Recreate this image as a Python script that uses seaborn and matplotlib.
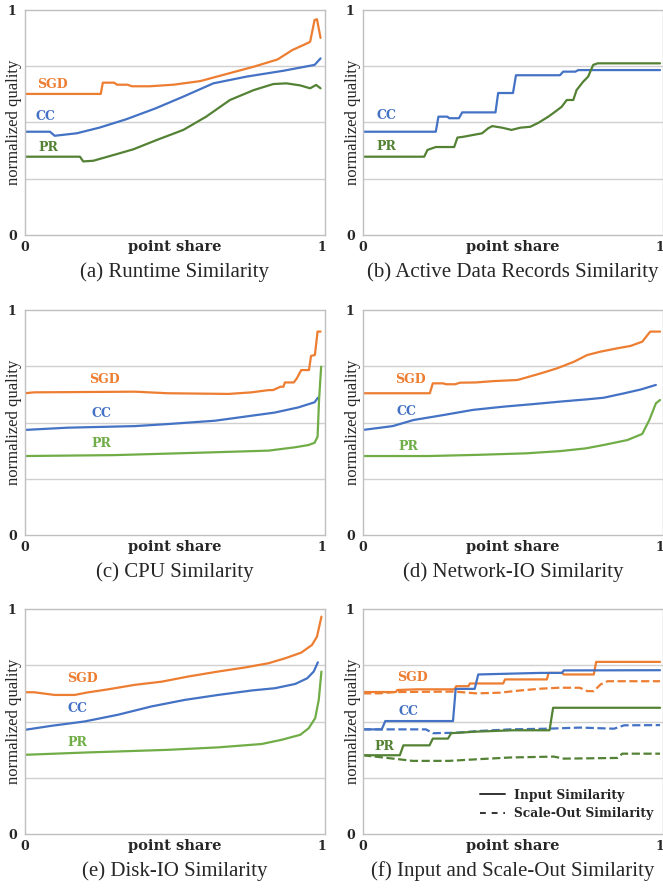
"""
Similarity quality curves, six panels (a)-(f)
"""
import matplotlib
matplotlib.use('Agg')
import matplotlib.pyplot as plt
from matplotlib.lines import Line2D
import seaborn as sns
import pandas as pd

sns.set_style('white')
plt.rcParams['font.family'] = ['Liberation Serif', 'DejaVu Serif']

ORANGE = '#ED7D31'
BLUE = '#4472C4'
DARK_GREEN = '#548235'
LIGHT_GREEN = '#70AD47'

# (a) Runtime Similarity
RT_SGD_X = [0, 0.255, 0.262, 0.30, 0.31, 0.345, 0.36, 0.42, 0.50, 0.59, 0.68, 0.77, 0.85, 0.90, 0.95, 0.96, 0.975, 0.983, 0.995]
RT_SGD_Y = [0.627, 0.627, 0.677, 0.677, 0.668, 0.668, 0.661, 0.661, 0.668, 0.684, 0.716, 0.748, 0.78, 0.822, 0.852, 0.859, 0.956, 0.959, 0.876]
RT_CC_X = [0, 0.084, 0.10, 0.174, 0.25, 0.34, 0.44, 0.533, 0.634, 0.746, 0.87, 0.975, 0.995]
RT_CC_Y = [0.459, 0.459, 0.441, 0.452, 0.477, 0.514, 0.563, 0.615, 0.674, 0.704, 0.730, 0.756, 0.785]
RT_PR_X = [0, 0.185, 0.196, 0.23, 0.31, 0.365, 0.443, 0.533, 0.61, 0.69, 0.77, 0.836, 0.88, 0.926, 0.96, 0.98, 0.995]
RT_PR_Y = [0.348, 0.348, 0.327, 0.33, 0.36, 0.381, 0.422, 0.467, 0.526, 0.60, 0.644, 0.671, 0.674, 0.665, 0.652, 0.667, 0.652]

# (b) Active Data Records Similarity
REC_CC_X = [0, 0.245, 0.254, 0.284, 0.29, 0.323, 0.334, 0.446, 0.455, 0.505, 0.515, 0.663, 0.674, 0.715, 0.725, 1.0]
REC_CC_Y = [0.459, 0.459, 0.526, 0.526, 0.519, 0.519, 0.545, 0.545, 0.631, 0.631, 0.71, 0.71, 0.726, 0.726, 0.733, 0.733]
REC_PR_X = [0, 0.206, 0.217, 0.245, 0.307, 0.318, 0.34, 0.368, 0.401, 0.421, 0.435, 0.468, 0.50, 0.53, 0.563,
            0.591, 0.624, 0.647, 0.669, 0.686, 0.708, 0.719, 0.741, 0.758, 0.775, 0.79, 1.0]
REC_PR_Y = [0.348, 0.348, 0.378, 0.391, 0.391, 0.433, 0.437, 0.444, 0.452, 0.474, 0.484, 0.477, 0.467, 0.477, 0.481,
            0.499, 0.526, 0.548, 0.57, 0.60, 0.60, 0.644, 0.681, 0.704, 0.756, 0.763, 0.763]

# (c) CPU Similarity
CPU_SGD_X = [0, 0.03, 0.37, 0.48, 0.685, 0.763, 0.82, 0.835, 0.86, 0.87, 0.875, 0.905, 0.915, 0.93,
             0.956, 0.963, 0.976, 0.985, 0.995]
CPU_SGD_Y = [0.63, 0.634, 0.637, 0.63, 0.627, 0.634, 0.644, 0.644, 0.659, 0.659, 0.678, 0.678, 0.696, 0.733,
             0.733, 0.796, 0.80, 0.904, 0.904]
CPU_CC_X = [0, 0.144, 0.37, 0.48, 0.64, 0.74, 0.84, 0.92, 0.975, 0.986]
CPU_CC_Y = [0.467, 0.477, 0.484, 0.493, 0.508, 0.526, 0.544, 0.567, 0.59, 0.61]
CPU_PR_X = [0, 0.30, 0.595, 0.82, 0.91, 0.955, 0.975, 0.985, 0.99, 0.997]
CPU_PR_Y = [0.351, 0.355, 0.366, 0.375, 0.39, 0.40, 0.41, 0.437, 0.60, 0.748]

# (d) Network-IO Similarity
NET_SGD_X = [0, 0.225, 0.235, 0.27, 0.28, 0.31, 0.327, 0.38, 0.44, 0.52, 0.55, 0.60, 0.654, 0.71, 0.755, 0.80,
             0.857, 0.90, 0.94, 0.967, 1.0]
NET_SGD_Y = [0.63, 0.63, 0.674, 0.674, 0.67, 0.67, 0.677, 0.678, 0.684, 0.689, 0.70, 0.719, 0.741, 0.77, 0.80, 0.815,
             0.83, 0.84, 0.859, 0.904, 0.904]
NET_CC_X = [0, 0.10, 0.17, 0.27, 0.37, 0.47, 0.575, 0.665, 0.755, 0.81, 0.88, 0.936, 0.986]
NET_CC_Y = [0.467, 0.484, 0.511, 0.533, 0.556, 0.57, 0.582, 0.593, 0.603, 0.61, 0.63, 0.647, 0.667]
NET_PR_X = [0, 0.22, 0.38, 0.55, 0.665, 0.75, 0.81, 0.89, 0.94, 0.964, 0.986, 1.0]
NET_PR_Y = [0.351, 0.351, 0.356, 0.363, 0.373, 0.385, 0.40, 0.422, 0.449, 0.511, 0.585, 0.60]

# (e) Disk-IO Similarity
DISK_SGD_X = [0, 0.03, 0.10, 0.167, 0.21, 0.28, 0.37, 0.46, 0.55, 0.65, 0.74, 0.82, 0.876, 0.93, 0.966, 0.983, 0.998]
DISK_SGD_Y = [0.63, 0.63, 0.618, 0.618, 0.629, 0.643, 0.663, 0.677, 0.70, 0.722, 0.74, 0.759, 0.781, 0.806, 0.84, 0.877, 0.966]
DISK_CC_X = [0, 0.09, 0.20, 0.313, 0.426, 0.538, 0.65, 0.764, 0.842, 0.91, 0.95, 0.972, 0.986]
DISK_CC_Y = [0.463, 0.481, 0.50, 0.53, 0.567, 0.596, 0.618, 0.638, 0.648, 0.667, 0.692, 0.722, 0.763]
DISK_PR_X = [0, 0.20, 0.48, 0.65, 0.797, 0.865, 0.927, 0.955, 0.977, 0.989, 0.998]
DISK_PR_Y = [0.352, 0.362, 0.374, 0.385, 0.40, 0.419, 0.441, 0.47, 0.515, 0.596, 0.722]

# (f) Input and Scale-Out Similarity, solid = input, dashed = scale-out
IN_SGD_X = [0, 0.11, 0.116, 0.18, 0.308, 0.314, 0.355, 0.36, 0.472, 0.478, 0.619, 0.625, 0.67, 0.676, 0.777, 0.785, 1.0]
IN_SGD_Y = [0.631, 0.631, 0.64, 0.643, 0.643, 0.657, 0.657, 0.669, 0.669, 0.687, 0.687, 0.716, 0.716, 0.709, 0.709, 0.765, 0.765]
IN_CC_X = [0, 0.063, 0.075, 0.303, 0.312, 0.376, 0.388, 0.506, 0.597, 0.67, 0.676, 1.0]
IN_CC_Y = [0.465, 0.465, 0.502, 0.502, 0.645, 0.645, 0.709, 0.713, 0.716, 0.716, 0.727, 0.728]
IN_PR_X = [0, 0.124, 0.136, 0.224, 0.235, 0.286, 0.297, 0.382, 0.506, 0.628, 0.64, 1.0]
IN_PR_Y = [0.35, 0.35, 0.394, 0.394, 0.424, 0.424, 0.448, 0.455, 0.461, 0.461, 0.561, 0.561]
OUT_SGD_X = [0, 0.054, 0.11, 0.308, 0.382, 0.46, 0.53, 0.60, 0.66, 0.73, 0.755, 0.777, 0.80, 0.823, 1.0]
OUT_SGD_Y = [0.625, 0.625, 0.631, 0.633, 0.625, 0.628, 0.638, 0.646, 0.65, 0.65, 0.635, 0.635, 0.665, 0.679, 0.679]
OUT_CC_X = [0, 0.212, 0.235, 0.314, 0.393, 0.495, 0.62, 0.732, 0.845, 0.879, 1.0]
OUT_CC_Y = [0.465, 0.465, 0.448, 0.45, 0.458, 0.465, 0.468, 0.473, 0.468, 0.483, 0.484]
OUT_PR_X = [0, 0.122, 0.167, 0.29, 0.382, 0.495, 0.642, 0.676, 0.856, 0.873, 1.0]
OUT_PR_Y = [0.35, 0.332, 0.325, 0.325, 0.332, 0.34, 0.344, 0.335, 0.338, 0.357, 0.357]

# label positions (x, y) per panel
LABELS = {
    'a': [('SGD', 0.042, 0.671, ORANGE), ('CC', 0.037, 0.526, BLUE), ('PR', 0.046, 0.39, DARK_GREEN)],
    'b': [('CC', 0.045, 0.533, BLUE), ('PR', 0.045, 0.393, DARK_GREEN)],
    'c': [('SGD', 0.217, 0.689, ORANGE), ('CC', 0.223, 0.541, BLUE), ('PR', 0.223, 0.407, LIGHT_GREEN)],
    'd': [('SGD', 0.107, 0.689, ORANGE), ('CC', 0.113, 0.548, BLUE), ('PR', 0.118, 0.393, LIGHT_GREEN)],
    'e': [('SGD', 0.142, 0.692, ORANGE), ('CC', 0.144, 0.559, BLUE), ('PR', 0.144, 0.408, LIGHT_GREEN)],
    'f': [('SGD', 0.116, 0.694, ORANGE), ('CC', 0.12, 0.544, BLUE), ('PR', 0.037, 0.391, DARK_GREEN)],
}

CAPTIONS = {
    'a': '(a) Runtime Similarity',
    'b': '(b) Active Data Records Similarity',
    'c': '(c) CPU Similarity',
    'd': '(d) Network-IO Similarity',
    'e': '(e) Disk-IO Similarity',
    'f': '(f) Input and Scale-Out Similarity',
}

W, H = 663, 888
BOLD = dict(family='DejaVu Serif', fontweight='bold')


def make_axes(fig, left_px, top_px):
    ax = fig.add_axes([left_px / W, 1 - (top_px + 225) / H, 300 / W, 225 / H])
    return ax


def style_axes(ax, key, minor):
    ax.set_xlim(0, 1.01)
    ax.set_ylim(0, 1)
    ax.set_yticks([0, 1])
    ax.set_yticklabels(['0', '1'])
    ax.set_xticks([0, 1])
    ax.set_xticklabels(['0', '1'])
    ax.set_xticks(minor, minor=True)
    for y in [0.25, 0.5, 0.75]:
        ax.axhline(y, color='#D0D0D0', lw=1.0, zorder=0)
    for s in ax.spines.values():
        s.set_color('#BFBFBF')
        s.set_linewidth(1.0)
    ax.tick_params(axis='both', which='major', length=0, pad=6)
    ax.tick_params(axis='x', which='major', pad=4)
    ax.tick_params(axis='x', which='minor', length=3, color='#BFBFBF', direction='out')
    for lab in ax.get_xticklabels() + ax.get_yticklabels():
        lab.set_fontfamily('DejaVu Serif')
        lab.set_fontweight('bold')
        lab.set_fontsize(9)
    ax.set_xlabel('point share', fontsize=10.5, **BOLD)
    ax.xaxis.set_label_coords(0.5, -0.055)
    ax.xaxis.label.set_va('center')
    ax.set_ylabel('normalized quality', fontsize=12, family='Liberation Serif')
    ax.yaxis.set_label_coords(-0.035, 0.5)
    ax.yaxis.label.set_va('center')
    for name, x, y, c in LABELS[key]:
        ax.text(x, y, name, color=c, fontsize=9, ha='left', va='center', **BOLD)
    ax.text(0.5, -0.165, CAPTIONS[key], transform=ax.transAxes, ha='center', va='center',
            fontsize=15, family='Liberation Serif')


def draw(ax, xs, ys, color, dashed=False):
    df = pd.DataFrame({'x': xs, 'y': ys})
    sns.lineplot(data=df, x='x', y='y', ax=ax, color=color, lw=1.6, sort=False,
                 estimator=None, linestyle='--' if dashed else '-')


fig = plt.figure(figsize=(W / 100, H / 100), dpi=100)

LEFT, RIGHT = 25, 363
TOPS = [10, 310, 609]

ax_a = make_axes(fig, LEFT, TOPS[0])
draw(ax_a, RT_SGD_X, RT_SGD_Y, ORANGE)
draw(ax_a, RT_CC_X, RT_CC_Y, BLUE)
draw(ax_a, RT_PR_X, RT_PR_Y, DARK_GREEN)
style_axes(ax_a, 'a', [0.5])

ax_b = make_axes(fig, RIGHT, TOPS[0])
draw(ax_b, REC_CC_X, REC_CC_Y, BLUE)
draw(ax_b, REC_PR_X, REC_PR_Y, DARK_GREEN)
style_axes(ax_b, 'b', [0.5])

ax_c = make_axes(fig, LEFT, TOPS[1])
draw(ax_c, CPU_SGD_X, CPU_SGD_Y, ORANGE)
draw(ax_c, CPU_CC_X, CPU_CC_Y, BLUE)
draw(ax_c, CPU_PR_X, CPU_PR_Y, LIGHT_GREEN)
style_axes(ax_c, 'c', [0.25, 0.5, 0.75])

ax_d = make_axes(fig, RIGHT, TOPS[1])
draw(ax_d, NET_SGD_X, NET_SGD_Y, ORANGE)
draw(ax_d, NET_CC_X, NET_CC_Y, BLUE)
draw(ax_d, NET_PR_X, NET_PR_Y, LIGHT_GREEN)
style_axes(ax_d, 'd', [0.25, 0.5, 0.75])

ax_e = make_axes(fig, LEFT, TOPS[2])
draw(ax_e, DISK_SGD_X, DISK_SGD_Y, ORANGE)
draw(ax_e, DISK_CC_X, DISK_CC_Y, BLUE)
draw(ax_e, DISK_PR_X, DISK_PR_Y, LIGHT_GREEN)
style_axes(ax_e, 'e', [0.25, 0.5, 0.75])

ax_f = make_axes(fig, RIGHT, TOPS[2])
draw(ax_f, OUT_SGD_X, OUT_SGD_Y, ORANGE, dashed=True)
draw(ax_f, OUT_CC_X, OUT_CC_Y, BLUE, dashed=True)
draw(ax_f, OUT_PR_X, OUT_PR_Y, DARK_GREEN, dashed=True)
draw(ax_f, IN_SGD_X, IN_SGD_Y, ORANGE)
draw(ax_f, IN_CC_X, IN_CC_Y, BLUE)
draw(ax_f, IN_PR_X, IN_PR_Y, DARK_GREEN)
style_axes(ax_f, 'f', [0.25, 0.5, 0.75])
handles = [Line2D([], [], color='#333333', lw=1.4, ls='-'),
           Line2D([], [], color='#333333', lw=1.4, ls=(0, (3, 3)))]
ax_f.legend(handles, ['Input Similarity', 'Scale-Out Similarity'], loc='lower right',
            bbox_to_anchor=(0.985, 0.04), frameon=False, handlelength=2.0, handletextpad=0.8,
            labelspacing=0.45, borderaxespad=0, prop=dict(family='DejaVu Serif', weight='bold', size=8.8))

fig.savefig('out.png', dpi=100)
